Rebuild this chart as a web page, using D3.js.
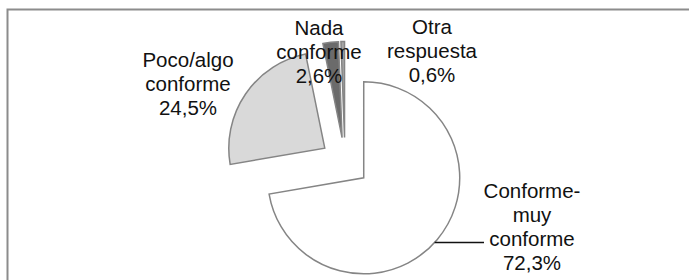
<!DOCTYPE html>
<html>
<head>
<meta charset="utf-8">
<script src="https://cdn.jsdelivr.net/npm/d3@7"></script>
<style>
  html, body { margin: 0; padding: 0; background: #fff; }
  svg { display: block; }
  text { font-family: "Liberation Sans", Arial, sans-serif; fill: #111; }
</style>
</head>
<body>
<svg id="chart" width="689" height="280"></svg>
<script>
// ---- data ----
const categories = ["Conforme-muy conforme", "Poco/algo conforme", "Nada conforme", "Otra respuesta"];
const values = [72.3, 24.5, 2.6, 0.6];
const labelLines = [["Conforme-", "muy", "conforme", "72,3%"],
                    ["Poco/algo", "conforme", "24,5%"],
                    ["Nada", "conforme", "2,6%"],
                    ["Otra", "respuesta", "0,6%"]];

// ---- layout / style ----
const W = 689, H = 280;
const cx = 345, cy = 162, R = 96, explode = 24.5;
const fills = ["#ffffff", "#d9d9d9", "#6b6b6b", "#a6a6a6"];
const strokeCol = "#858585";
const fontSize = 20.5, lineH = 24;
// label anchors (center x, first baseline y)
const labelAnchor = [[532, 197.5], [188, 66.5], [319, 35], [432, 34]];

const svg = d3.select("#chart");

// outer frame
svg.append("rect")
  .attr("x", 7.5).attr("y", 9.5)
  .attr("width", W + 20).attr("height", H + 20)
  .attr("fill", "none").attr("stroke", "#8c8c8c").attr("stroke-width", 2);

const pie = d3.pie().sort(null).value(d => d).startAngle(0).endAngle(2 * Math.PI);
const arcs = pie(values);
const arc = d3.arc().innerRadius(0).outerRadius(R);

const g = svg.append("g").attr("transform", `translate(${cx},${cy})`);

function offset(d) {
  const m = (d.startAngle + d.endAngle) / 2;
  return [Math.sin(m) * explode, -Math.cos(m) * explode];
}

g.selectAll("path.slice")
  .data(arcs)
  .join("path")
  .attr("class", "slice")
  .attr("transform", d => { const o = offset(d); return `translate(${o[0]},${o[1]})`; })
  .attr("d", arc)
  .attr("fill", (d, i) => fills[i])
  .attr("stroke", strokeCol)
  .attr("stroke-width", 1.5)
  .attr("stroke-linejoin", "miter");

// labels
labelLines.forEach((lines, i) => {
  const t = svg.append("text")
    .attr("text-anchor", "middle")
    .attr("font-size", fontSize);
  lines.forEach((ln, j) => {
    t.append("tspan")
      .attr("x", labelAnchor[i][0])
      .attr("y", labelAnchor[i][1] + j * lineH)
      .text(ln);
  });
});

// leader line for the big slice
{
  const d = arcs[0];
  const o = offset(d);
  const lineY = labelAnchor[0][1] + 2 * lineH - 3 - cy - o[1]; // relative y
  const a = Math.acos(-lineY / R); // angle from top, right side
  const px = cx + o[0] + Math.sin(a) * R;
  const py = cy + o[1] + lineY;
  svg.append("line")
    .attr("x1", px).attr("y1", py)
    .attr("x2", labelAnchor[0][0] - 48).attr("y2", py)
    .attr("stroke", "#111").attr("stroke-width", 1.3);
}
</script>
</body>
</html>
